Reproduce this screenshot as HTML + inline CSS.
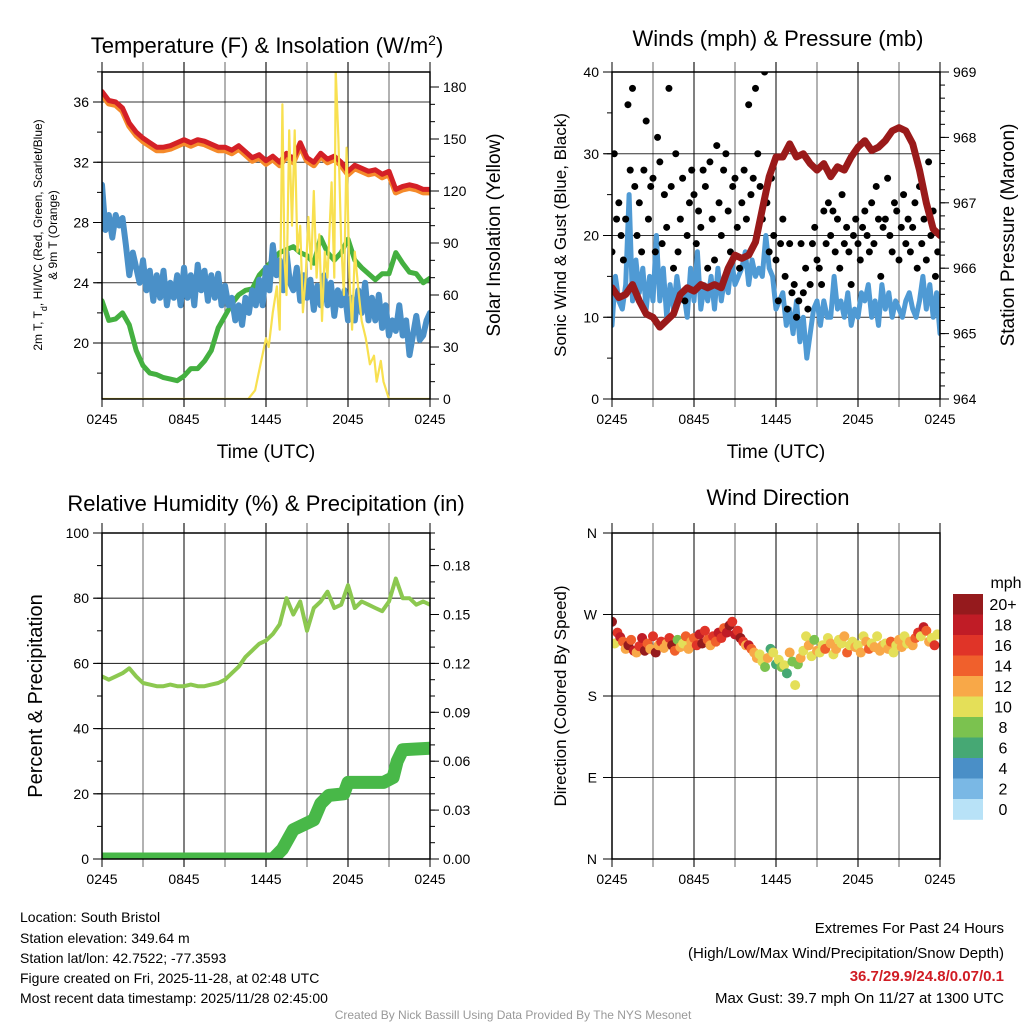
<!DOCTYPE html>
<html><head><meta charset="utf-8"><style>
body{margin:0;background:#fff;}
svg{display:block;font-family:"Liberation Sans",sans-serif;}
</style></head><body>
<svg id="chart" width="1024" height="1024" viewBox="0 0 1024 1024" xmlns="http://www.w3.org/2000/svg">
<defs>
<clipPath id="c1"><rect x="102" y="72" width="328" height="327"/></clipPath>
<clipPath id="c2"><rect x="612" y="72" width="328" height="327"/></clipPath>
<clipPath id="c3"><rect x="102" y="533" width="328" height="326"/></clipPath>
<clipPath id="c4"><rect x="612" y="533" width="328" height="326"/></clipPath>
</defs>
<g id="layer"></g>
<text x="267" y="53" font-size="22" text-anchor="middle">Temperature (F) &amp; Insolation (W/m<tspan baseline-shift="super" font-size="14">2</tspan>)</text>
<text x="778" y="46" font-size="22" text-anchor="middle">Winds (mph) &amp; Pressure (mb)</text>
<text x="266" y="511" font-size="22" text-anchor="middle">Relative Humidity (%) &amp; Precipitation (in)</text>
<text x="778" y="505" font-size="22" text-anchor="middle">Wind Direction</text>
<text x="266" y="458" font-size="19" text-anchor="middle">Time (UTC)</text>
<text x="776" y="458" font-size="19" text-anchor="middle">Time (UTC)</text>
<text transform="translate(42,235) rotate(-90)" font-size="12" text-anchor="middle">2m T, T<tspan baseline-shift="sub" font-size="9">d</tspan>, HI/WC (Red, Green, Scarlet/Blue)</text>
<text transform="translate(57,235) rotate(-90)" font-size="12" text-anchor="middle">&amp; 9m T (Orange)</text>
<text transform="translate(500,235) rotate(-90)" font-size="19" text-anchor="middle">Solar Insolation (Yellow)</text>
<text transform="translate(566,235) rotate(-90)" font-size="17" text-anchor="middle">Sonic Wind &amp; Gust (Blue, Black)</text>
<text transform="translate(1014,235) rotate(-90)" font-size="19" text-anchor="middle">Station Pressure (Maroon)</text>
<text transform="translate(42,696) rotate(-90)" font-size="20" text-anchor="middle">Percent &amp; Precipitation</text>
<text transform="translate(566,696) rotate(-90)" font-size="17" text-anchor="middle">Direction (Colored By Speed)</text>
<g font-size="14">
<text x="20" y="922">Location: South Bristol</text>
<text x="20" y="943">Station elevation: 349.64 m</text>
<text x="20" y="963">Station lat/lon: 42.7522; -77.3593</text>
<text x="20" y="983">Figure created on Fri, 2025-11-28, at 02:48 UTC</text>
<text x="20" y="1003">Most recent data timestamp: 2025/11/28 02:45:00</text>
</g>
<g font-size="15" text-anchor="end">
<text x="1004" y="933">Extremes For Past 24 Hours</text>
<text x="1004" y="958">(High/Low/Max Wind/Precipitation/Snow Depth)</text>
<text x="1004" y="981" font-weight="bold" fill="#d01c24">36.7/29.9/24.8/0.07/0.1</text>
<text x="1004" y="1003">Max Gust: 39.7 mph On 11/27 at 1300 UTC</text>
</g>
<text x="513" y="1019" font-size="12" fill="#999" text-anchor="middle">Created By Nick Bassill Using Data Provided By The NYS Mesonet</text>
</svg>
<script>
const temp2m=[36.7,36.1,36.0,35.6,34.6,34.0,33.6,33.3,33.0,33.0,33.1,33.3,33.5,33.3,33.5,33.4,33.2,33.0,33.0,32.8,33.1,32.7,32.3,32.5,32.1,32.4,32.0,32.6,32.2,33.3,32.3,32.0,32.6,32.2,32.4,32.0,31.4,31.8,31.6,31.4,31.5,31.2,31.4,30.2,30.4,30.5,30.4,30.2,30.2];
const dewpoint=[22.8,21.5,21.6,22.0,21.2,19.5,18.5,18.0,17.9,17.7,17.6,17.5,17.8,18.3,18.3,18.8,19.5,21.0,21.8,22.6,23.2,23.5,23.6,24.5,25.0,25.5,26.0,26.2,26.4,26.0,25.8,25.3,27.0,26.0,25.5,26.0,26.9,25.5,25.0,24.6,24.2,24.6,24.6,26.0,25.3,24.7,24.6,24.0,24.3];
const windChill=[30.5,27.5,28.5,27,28.5,27.8,28.3,26.5,24.5,26,25,24,25.5,23.5,24.8,22.8,24.5,23,24.8,22.5,24,23,24.5,22.5,25,23,24.5,22.5,25.2,23.5,24.8,22.8,24.5,23,24.6,22.5,23.8,22.5,23,21.5,22.5,21.2,23,22,23.5,22.5,24.2,22.5,25,23.5,26.5,24.5,25.5,23.5,26,24,23.5,25,22.8,24.5,23,24.2,22.2,23.8,22.5,24.5,22.5,24,21.8,23.5,22.5,23.5,21.5,23,21.5,23.5,22,24,21.5,23,21.5,23.2,21,22.5,20.5,21.5,20.8,22.5,20.5,21.5,19.2,20.5,21.8,20.2,20.5,21.5,22];
const solarHours=[0,10.7,11.2,11.6,12.0,12.2,12.5,12.8,13.0,13.2,13.35,13.5,13.7,13.9,14.1,14.3,14.5,14.7,14.9,15.1,15.3,15.5,15.7,15.9,16.1,16.3,16.5,16.8,17.0,17.1,17.3,17.5,17.7,17.9,18.1,18.3,18.5,18.8,19.0,19.3,19.6,19.9,20.1,20.4,20.6,21.0,24];
const solarValues=[0,0,5,20,35,30,50,65,40,170,80,60,155,100,155,85,100,50,70,105,75,120,70,95,45,85,70,125,70,190,150,90,60,145,70,40,85,60,45,35,20,25,10,22,10,0,0];
const sonicWind=[9,15,12,11,14,25,12,17,13,16,11,15,12,20,12,16,10,14,11,15,12,13,10,16,12,18,11,14,12,15,11,16,12,15,13,17,14,15,16,18,14,17,15,16,15,20,16,15,11,12,13,9,11,8,12,7,10,5,8,11,12,9,12,10,10,15,11,12,10,13,9,11,10,13,12,14,10,12,9,14,11,13,10,12,11,10,12,13,11,10,12,15,11,14,10,13,8];
const gusts=[18,30,22,24,20,17,22,36,28,38,26,20,24,18,28,34,22,26,27,18,32,29,19,25,21,38,26,16,30,18,22,27,12,20,24,28,25,19,23,21,28,26,16,29,22,17,31,24,20,28,30,23,18,26,27,21,16,24,28,22,36,25,27,38,30,26,22,40,24,18,27,20,17,12,19,22,15,11,19,13,14,10,12,19,13,16,11,14,19,21,17,16,14,23,19,24,20,23,18,22,16,25,19,21,18,14,20,22,19,17,21,23,20,18,24,19,26,22,15,21,22,27,20,18,24,23,17,21,25,19,22,18,21,24,16,26,19,22,17,29,20,23,15,18];
const pressure=[965.7,965.55,965.6,965.75,965.5,965.3,965.25,965.1,965.2,965.3,965.6,965.7,965.65,965.75,965.7,965.75,965.7,966.0,966.2,966.15,966.2,966.4,966.9,967.4,967.7,967.7,967.9,967.7,967.75,967.6,967.5,967.6,967.4,967.55,967.5,967.7,967.85,967.95,967.8,967.85,967.95,968.1,968.15,968.1,967.9,967.5,967.0,966.6,966.5];
const relHumidity=[56,55,56,57,58.5,56,54,53.5,53,53,53.5,53,53,53.5,53,53,53.5,54,55,57,59,62,64,66,67,69,72,80,75,79,70,77,79,82,77,78,84,77,79,78,77,76,79,86,80,80,78,79,78];
const precipHours=[0,12.5,13.2,14.0,15.0,15.5,16.0,16.6,17.7,18.0,20.6,21.3,21.6,22.0,24];
const precipValues=[0,0,0.006,0.018,0.022,0.024,0.034,0.039,0.04,0.047,0.047,0.05,0.06,0.067,0.068];
const windDir=[262,238,250,245,240,232,236,242,230,228,235,244,230,238,232,246,228,236,240,233,238,244,236,230,242,234,238,246,232,240,244,236,248,238,252,242,236,246,240,250,244,255,250,258,262,248,252,244,240,236,236,232,228,222,226,218,212,222,232,228,215,220,212,214,205,228,218,192,215,222,230,246,236,224,242,230,228,236,232,244,238,226,232,242,238,246,228,236,240,234,236,228,246,240,232,238,234,246,230,236,238,232,240,228,236,242,234,246,238,240,236,244,250,246,256,252,240,244,236,248];
const windDirSpeed=[20,11,16,18,14,12,20,14,18,13,16,18,21,14,12,16,20,13,17,12,12,16,20,14,9,12,10,15,13,12,14,16,18,20,16,14,13,17,15,18,16,14,18,20,16,18,17,21,16,12,18,14,12,13,10,11,8,12,6,10,7,10,9,11,6,12,8,10,9,12,10,10,13,11,9,12,10,11,14,10,12,10,13,11,10,12,14,11,10,12,11,13,10,12,14,11,12,10,12,13,10,12,14,10,11,13,12,10,11,12,12,14,16,11,18,14,12,10,16,10];
const xTickLabels=["0245","0845","1445","2045","0245"];
const speedLabels=["20+","18","16","14","12","10","8","6","4","2","0"];
const speedColors=["#951a1d","#c01c26","#e03428","#f0602c","#f8a848","#e4df58","#7bc24f","#46a874","#4a8fc7","#7ab8e5","#b8e2f7"];
const dirLabels=["N","W","S","E","N"];

const NS="http://www.w3.org/2000/svg";
const layer=document.getElementById('layer');
function mk(tag,attrs,parent){const e=document.createElementNS(NS,tag);for(const k in attrs)e.setAttribute(k,attrs[k]);(parent||layer).appendChild(e);return e;}
function lin(d0,d1,r0,r1){return v=>r0+(v-d0)/(d1-d0)*(r1-r0);}

const panels=[{x0:102,x1:430,y0:72,y1:399,clip:'c1'},{x0:612,x1:940,y0:72,y1:399,clip:'c2'},{x0:102,x1:430,y0:533,y1:859,clip:'c3'},{x0:612,x1:940,y0:533,y1:859,clip:'c4'}];
panels.forEach((p,i)=>{p.x=lin(0,24,p.x0,p.x1);});
const y1L=lin(20,36,343,102), y1R=lin(0,180,399,87);
const y2L=lin(0,40,399,72), y2R=lin(964,969,399,72);
const y3L=lin(0,100,859,533), y3R=lin(0,0.2,859,533);
const y4=lin(0,360,859,533);

function frame(p,name,hGrid,yS){
  const g=mk('g',{});
  
  
  for(let h=3;h<24;h+=3){const X=p.x(h);mk('line',{x1:X,x2:X,y1:p.y0-10,y2:p.y1+8,stroke:'#000','stroke-width':1.1,'stroke-opacity':(h%6?0.55:0.9)},g);}
  hGrid.forEach(v=>{const Y=yS(v);mk('line',{x1:p.x0-8,x2:p.x1,y1:Y,y2:Y,stroke:'#000','stroke-width':1.1,'stroke-opacity':0.8},g);});
  const xl=mk('g',{'font-size':14,'text-anchor':'middle'});
  
  
  xTickLabels.forEach((t,k)=>{const X=p.x(k*6);mk('line',{x1:X,x2:X,y1:p.y1,y2:p.y1+8,stroke:'#000'},xl);mk('line',{x1:X,x2:X,y1:p.y0-10,y2:p.y0,stroke:'#000'},xl);const tt=mk('text',{x:X,y:p.y1+25},xl);tt.textContent=t;});
}
function yTicks(p,name,side,majors,minors,yS,fmt){
  const g=mk('g',{'font-size':14,'text-anchor':side==='l'?'end':'start'});
  
  
  const X=side==='l'?p.x0:p.x1, d=side==='l'?-1:1;
  minors.forEach(v=>{const Y=yS(v);mk('line',{x1:X,x2:X+d*5,y1:Y,y2:Y,stroke:'#000'},g);});
  majors.forEach(v=>{const Y=yS(v);mk('line',{x1:X,x2:X+d*9,y1:Y,y2:Y,stroke:'#000'},g);const t=mk('text',{x:X+d*13,y:Y+5},g);t.textContent=fmt(v);});
}
function border(p,name){const r=mk('rect',{x:p.x0,y:p.y0,width:p.x1-p.x0,height:p.y1-p.y0,fill:'none',stroke:'#000','stroke-width':1.5});}
function rng(a,b,s){const o=[];for(let v=a;v<=b+1e-9;v+=s)o.push(+v.toFixed(4));return o;}
function path(xs,ys,p,yS,attrs,name){const d=xs.map((h,i)=>(i?'L':'M')+p.x(h).toFixed(1)+','+yS(ys[i]).toFixed(1)).join('');const e=mk('path',Object.assign({d,fill:'none','stroke-linejoin':'round','stroke-linecap':'round','clip-path':'url(#'+p.clip+')'},attrs));return e;}
const even=(arr,step)=>arr.map((_,i)=>i*step);

let P=panels[0];
frame(P,'temp-panel',[20,24,28,32,36],y1L);
yTicks(P,'temp-y-axis','l',[20,24,28,32,36],rng(18,38,2),y1L,v=>v);
yTicks(P,'insolation-y-axis','r',rng(0,180,30),rng(0,180,10),y1R,v=>v);
path(even(temp2m,0.5),temp2m.map(v=>v-0.2),P,y1L,{stroke:'#f58a2a','stroke-width':6},'temp-9m-line');
path(even(dewpoint,0.5),dewpoint,P,y1L,{stroke:'#44b040','stroke-width':5},'dewpoint-line');
path(even(windChill,0.25),windChill,P,y1L,{stroke:'#4a90c8','stroke-width':6},'windchill-line');
path(even(temp2m,0.5),temp2m,P,y1L,{stroke:'#d42026','stroke-width':5},'temp-2m-line');
path(solarHours,solarValues,P,y1R,{stroke:'#f8e050','stroke-width':2.2},'insolation-line');
border(P,'temp-panel');

P=panels[1];
frame(P,'wind-panel',[10,20,30],y2L);
yTicks(P,'wind-y-axis','l',[0,10,20,30,40],rng(0,40,5),y2L,v=>v);
yTicks(P,'pressure-y-axis','r',rng(964,969,1),rng(964,969,0.2),y2R,v=>v);
path(even(sonicWind,0.25),sonicWind,P,y2L,{stroke:'#4f9ad4','stroke-width':5},'sonic-wind-line');
const gg=mk('g',{'clip-path':'url(#c2)'});


gusts.forEach((v,i)=>{const c=mk('circle',{cx:P.x(i/6),cy:y2L(v),r:3.5,fill:'#000'},gg);});
path(even(pressure,0.5),pressure,P,y2R,{stroke:'#9a1a1a','stroke-width':7},'pressure-line');
border(P,'wind-panel');

P=panels[2];
frame(P,'humidity-panel',[20,40,60,80],y3L);
yTicks(P,'humidity-y-axis','l',rng(0,100,20),rng(0,100,10),y3L,v=>v);
yTicks(P,'precip-y-axis','r',rng(0,0.18,0.03),rng(0,0.2,0.01),y3R,v=>v.toFixed(2));
path(even(relHumidity,0.5),relHumidity,P,y3L,{stroke:'#8cc850','stroke-width':4},'humidity-line');
path(precipHours,precipValues,P,y3R,{stroke:'#48b848','stroke-width':13},'precip-line');
border(P,'humidity-panel');

P=panels[3];
frame(P,'direction-panel',[90,180,270],y4);
const dl=mk('g',{'font-size':14,'text-anchor':'end'});


dirLabels.forEach((t,k)=>{const Y=y4(360-k*90);mk('line',{x1:P.x0-9,x2:P.x0,y1:Y,y2:Y,stroke:'#000'},dl);const e=mk('text',{x:P.x0-15,y:Y+5},dl);e.textContent=t;});
const dg=mk('g',{'clip-path':'url(#c4)'});


function spdColor(s){let k=Math.min(10,Math.floor(s/2));return speedColors[10-k];}
windDir.forEach((v,i)=>{const c=mk('circle',{cx:P.x(i*0.2),cy:y4(v),r:5,fill:spdColor(windDirSpeed[i])},dg);});
border(P,'direction-panel');

const cb=mk('g',{'font-size':16,'text-anchor':'middle'});


const ct=mk('text',{x:1006,y:588},cb);ct.textContent='mph';
speedLabels.forEach((t,k)=>{const Y=594+k*20.5;mk('rect',{x:953,y:Y,width:30,height:20.8,fill:speedColors[k]},cb);const e=mk('text',{x:1003,y:Y+16},cb);e.textContent=t;});
</script>
</body></html>
